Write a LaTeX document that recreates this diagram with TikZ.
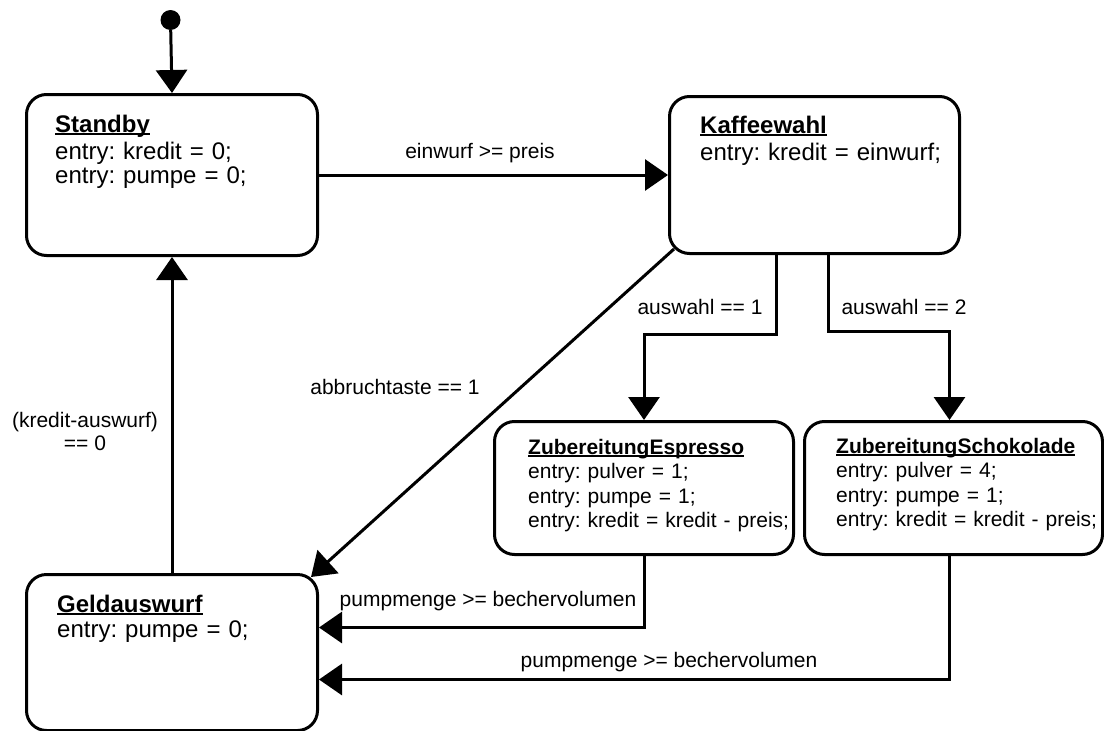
\documentclass[tikz,border=0pt]{standalone}
\usepackage{fontspec}
\setmainfont{Liberation Sans}
\usetikzlibrary{arrows.meta}
\frenchspacing

% underlined bold state name
\newsavebox\titelbox
\newcommand{\titel}[1]{\sbox\titelbox{\textbf{#1}}\usebox\titelbox\llap{\rule[-2.5pt]{\wd\titelbox}{1.8pt}}}

\begin{document}
\begin{tikzpicture}[x=1pt, y=-1pt,
    zustand/.style={draw, line width=3pt, rounded corners=20pt, anchor=north west, inner sep=0pt},
    inhalt/.style={anchor=base west, inner sep=0pt, text width=280pt, align=left, font=\fontsize{24}{24}\selectfont},
    inhaltklein/.style={inhalt, font=\fontsize{21}{24.5}\selectfont},
    etikett/.style={inner sep=0pt, align=center, font=\fontsize{21}{23}\selectfont},
    pfeil/.style={line width=3pt, -{Triangle[length=23pt, width=31pt]}}]
    \useasboundingbox (0,0) rectangle (1104,731);

    % Zustaende
    \node[circle, fill, inner sep=0pt, minimum size=20pt] (start) at (170.5,20) {};
    \node[zustand, minimum width=291pt, minimum height=161pt] (standby) at (25,93) {};
    \node[zustand, minimum width=290pt, minimum height=157pt] (kaffee) at (668,95) {};
    \node[zustand, minimum width=299pt, minimum height=133pt] (espresso) at (493,420) {};
    \node[zustand, minimum width=298pt, minimum height=133pt] (schoko) at (803,420) {};
    \node[zustand, minimum width=291pt, minimum height=156pt] (geld) at (25,573) {};

    \node[inhalt] (standbytxt) at (55,132) {\titel{Standby}\\[3pt] entry: kredit = 0;\\ entry: pumpe = 0;};
    \node[inhalt] (kaffeetxt) at (700,133) {\titel{Kaffeewahl}\\[3pt] entry: kredit = einwurf;};
    \node[inhaltklein] (espressotxt) at (528,454) {\titel{ZubereitungEspresso}\\ entry: pulver = 1;\\ entry: pumpe = 1;\\ entry: kredit = kredit - preis;};
    \node[inhaltklein] (schokotxt) at (836,453) {\titel{ZubereitungSchokolade}\\ entry: pulver = 4;\\ entry: pumpe = 1;\\ entry: kredit = kredit - preis;};
    \node[inhalt] (geldtxt) at (57,612) {\titel{Geldauswurf}\\[1pt] entry: pumpe = 0;};

    % Uebergaenge
    \draw[pfeil] (start) -- (standby.north);
    \draw[pfeil] (standby) -- (kaffee);
    \draw[pfeil] ([xshift=-38pt]kaffee.south) -- ++(0,79) -| (espresso.north);
    \draw[pfeil] ([xshift=14pt]kaffee.south) -- ++(0,76) -| ([xshift=-4pt]schoko.north);
    \draw[pfeil] ([xshift=6pt,yshift=6pt]kaffee.south west) -- ([xshift=-8pt,yshift=-4pt]geld.north east);
    \draw[pfeil] (espresso.south) |- ([yshift=25pt]geld.east);
    \draw[pfeil] ([xshift=-4pt]schoko.south) |- ([yshift=-27pt]geld.east);
    \draw[pfeil] (geld.north) -- (standby.south);

    \node[etikett] (l1) at (480,153) {einwurf >= preis};
    \node[etikett] (l2) at (700,307) {auswahl == 1};
    \node[etikett] (l3) at (904,307) {auswahl == 2};
    \node[etikett] (l4) at (395,387) {abbruchtaste == 1};
    \node[etikett] (l5) at (85,431) {(kredit-auswurf)\\== 0};
    \node[etikett] (l6) at (488,601) {pumpmenge >= bechervolumen};
    \node[etikett] (l7) at (669,662) {pumpmenge >= bechervolumen};
\end{tikzpicture}
\end{document}
